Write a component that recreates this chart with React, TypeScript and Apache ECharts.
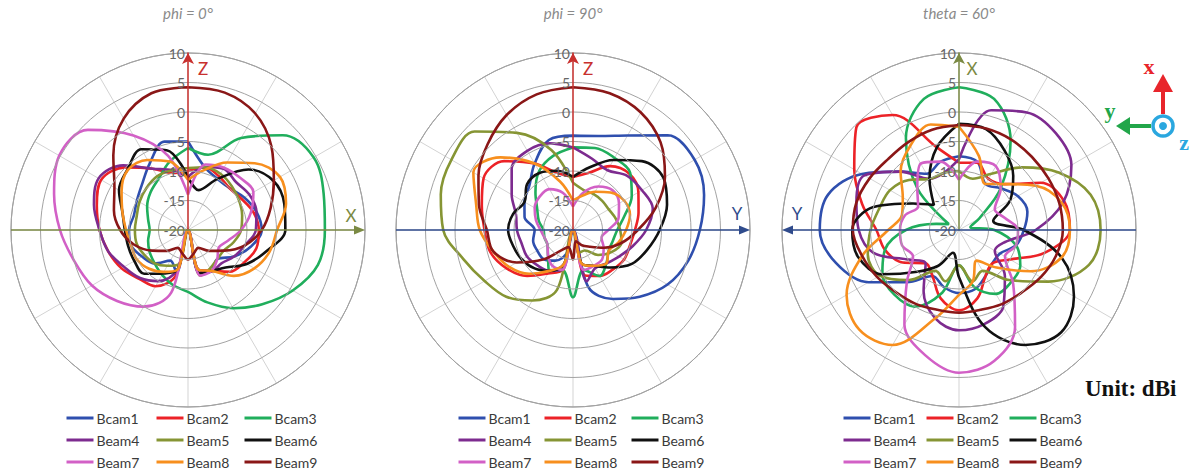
import React, { useEffect, useRef } from 'react';
import * as echarts from 'echarts';

// angle in degrees, measured clockwise from the upward axis
const angles = [0, 15, 30, 45, 60, 75, 90, 105, 120, 135, 150, 165, 180, 195, 210, 225, 240, 255, 270, 285, 300, 315, 330, 345];

const beamNames = ['Bcam1', 'Bcam2', 'Bcam3', 'Beam4', 'Beam5', 'Beam6', 'Beam7', 'Beam8', 'Beam9'];
const beamColors = ['#2f4fae', '#ec2227', '#20ae5c', '#7d2b8f', '#869534', '#111111', '#d260c6', '#f78f1e', '#8a1717'];
const panelTitles = ['phi = 0°', 'phi = 90°', 'theta = 60°'];

// phi = 0° cut (dBi)
const phi0Beam1 = [-5, -9, -10, -10, -9, -8, -7.5, -9, -11, -13, -12, -12.4, -20, -12.5, -14, -12, -11, -10, -10, -10.5, -10, -9, -7, -4.5];
const phi0Beam2 = [-10, -9, -9.5, -10, -9.5, -8.5, -8, -8, -9, -10, -12, -13, -20, -12, -9, -8.3, -7, -6, -5, -4, -3, -5, -8, -10];
const phi0Beam3 = [-6.1, -6.8, -2, 2.7, 4.6, 3.8, 3.2, 2.8, 0.5, -2.2, -4.7, -7.3, -9.5, -10.3, -11.2, -12, -12.5, -13, -13.5, -13, -12, -11, -10, -8];
const phi0Beam4 = [-11, -9, -8, -8.5, -8, -8, -8.5, -10, -11, -12, -12, -13, -20, -13, -10, -8.5, -7.5, -6, -5, -3.5, -2.5, -4.5, -8, -9.5];
const phi0Beam5 = [-9.5, -9, -9, -9.5, -10, -10.5, -11, -12, -13, -13, -12.5, -12, -20, -14, -13, -12, -11.5, -11, -11, -11, -10.5, -10, -9.5, -9.5];
const phi0Beam6 = [-11, -13, -10, -5.5, -3.3, -3.1, -3.5, -6.2, -8.5, -11, -12, -12.4, -20, -13, -11.5, -9.5, -9.5, -9.5, -9.3, -8.5, -6.5, -5.5, -4.2, -6];
const phi0Beam7 = [-14, -8.5, -7.8, -7.5, -7.2, -9, -11, -13, -14, -13, -12, -12, -20, -9, -5, -3, -1.2, 0, 1.7, 3.5, 5.2, 4, -1.5, -7];
const phi0Beam8 = [-11.5, -9.5, -6.8, -4, -2, -2.8, -4.9, -5.7, -7, -9, -12, -13, -20, -13, -11.8, -10.7, -10, -10, -9.5, -8.5, -7, -5.6, -6.3, -8];
const phi0Beam9 = [4.2, 4.1, 2.8, 0, -3.2, -5.5, -7.5, -10, -13, -15, -16.5, -16, -15, -16, -16.5, -15, -13, -10.5, -8.5, -7, -5.6, -2.1, 1.8, 4];

// phi = 90° cut (dBi)
const phi90Beam1 = [-4, -3.5, -1.5, 2.7, 3.8, 3, 1.5, 0.2, -1.5, -4, -6.5, -10, -20, -16, -14, -13, -13, -13, -13.5, -11.5, -10.5, -9.5, -7, -4.2];
const phi90Beam2 = [-11, -10, -7.5, -6.5, -7.2, -8.5, -9.5, -10, -10, -10.5, -11, -12, -20, -13, -11.5, -9, -7, -5.5, -5, -4, -2.5, -3.5, -7, -10];
const phi90Beam3 = [-6, -5.6, -5.9, -6.3, -8.5, -11, -12.5, -13, -13, -12, -11, -13, -8.6, -13, -12, -14, -15, -15, -15, -14, -13, -11, -8.5, -7];
const phi90Beam4 = [-6, -7.5, -8.3, -7, -6.5, -6, -7.6, -9.5, -11, -12, -12.5, -11, -20, -13, -12, -11.5, -11, -11, -10.5, -10, -8, -5.3, -4.5, -4.8];
const phi90Beam5 = [-12, -13, -13, -13, -13, -12.5, -12, -11.5, -12.5, -14, -16, -16, -20, -9.5, -6.2, -4, -2.7, -0.8, 2, 3.2, 3.8, 3.6, -1, -6];
const phi90Beam6 = [-11, -9, -6.3, -3.5, -2.3, -3.5, -5.3, -7, -8.5, -11, -13, -14, -20, -14, -12, -10.8, -10, -9.5, -9, -9.5, -10.5, -9, -8.8, -9.6];
const phi90Beam7 = [-16, -13.5, -11.5, -10.5, -11, -12, -14, -15, -14, -13, -13, -13, -20, -13, -13, -14, -15, -15, -14.5, -13.5, -12.5, -12, -12, -13.5];
const phi90Beam8 = [-15, -14, -12.5, -11, -10, -10, -11, -12, -13, -12, -13, -14, -20, -14, -12, -9.5, -7.5, -6, -4.2, -3, -0.5, -2.6, -7, -11.5];
const phi90Beam9 = [4.2, 4, 3, 1, -2, -5.5, -9, -11.5, -14, -16, -17, -18, -15, -17, -16, -13, -9, -6, -5.4, -3.5, -1.5, 0.5, 2.5, 3.8];

// theta = 60° cut (dBi)
const theta60Beam1 = [-7.5, -8, -11, -10, -8.5, -8, -9, -10, -12, -12, -11, -9.6, -9.3, -10, -11, -7.5, -2.3, 1.6, 3.6, 3, -1, -6, -9, -8];
const theta60Beam2 = [-8.6, -8.2, -10, -9, -4, -1.5, -1.2, -5, -10, -12, -11, -8, -6.4, -8, -11, -12, -9, -7, -6, -3, 0.5, 4.6, 2.5, -5.5];
const theta60Beam3 = [4.2, 3, -2.5, -10, -16, -18, -14, -10, -8, -7.5, -7.5, -10, -14, -9, -5, -4.5, -5, -7, -11, -16, -18, -10, -2, 3];
const theta60Beam4 = [-8, 1, 3, 3.2, 2, -1.7, -7, -12, -13, -9, -5, -3.5, -3, -4.5, -8, -12, -10, -5, -3, -2, -1.5, -6, -10, -10];
const theta60Beam5 = [-10, -11, -9, -5, -0.5, 3.1, 4, 2.8, -2.5, -8, -12, -11, -14, -11, -12, -8, -4.5, -4, -5, -6, -6.5, -8, -10, -10];
const theta60Beam6 = [-2, -2.3, -4.5, -7, -10, -14, -9, -2, 2.5, 4.5, 2.5, -3, -12, -16, -13, -10, -5, -2.3, -1.9, -5, -11, -14, -10, -5.5];
const theta60Beam7 = [-11.5, -8, -7.5, -10, -13, -12, -10, -10, -11, -7, -1, 3, 4.2, 2, -1.5, -7.5, -11, -10, -10, -10.5, -12, -10, -7, -8];
const theta60Beam8 = [-2.5, -7, -11, -9, -5, -2, -1.2, -2, -6, -11, -14, -11, -9, -4.5, 2.5, 3.9, 2, -3, -8, -10, -9, -6, -3.5, -1.5];
const theta60Beam9 = [-2.2, -2.2, -2.3, -2.5, -2.5, -2.4, -2.4, -3, -4, -5, -5.5, -6, -6, -6, -5.5, -5, -4, -3, -2, -2, -2.5, -3, -2.8, -2.4];

const panelData = [
  [phi0Beam1, phi0Beam2, phi0Beam3, phi0Beam4, phi0Beam5, phi0Beam6, phi0Beam7, phi0Beam8, phi0Beam9],
  [phi90Beam1, phi90Beam2, phi90Beam3, phi90Beam4, phi90Beam5, phi90Beam6, phi90Beam7, phi90Beam8, phi90Beam9],
  [theta60Beam1, theta60Beam2, theta60Beam3, theta60Beam4, theta60Beam5, theta60Beam6, theta60Beam7, theta60Beam8, theta60Beam9],
];

const legendColumns = [
  ['Bcam1', 'Beam4', 'Beam7'],
  ['Bcam2', 'Beam5', 'Beam8'],
  ['Bcam3', 'Beam6', 'Beam9'],
];

// layout
const CX = [188, 573, 959];
const CY = 230;
const R = 177;
const legendLefts = [
  [65, 155, 243],
  [457, 543, 630],
  [842, 925, 1008],
];
const RED_AX = '#c8302e';
const OLIVE_AX = '#7b8a44';
const NAVY_AX = '#2f4b8c';
const verticalAxisColors = [RED_AX, RED_AX, OLIVE_AX];
const FONT = 'Lato, "Open Sans", sans-serif';

function hArrow(xFrom: number, xTip: number, color: string) {
  const dir = xTip > xFrom ? 1 : -1;
  return [
    {
      type: 'line', z: 50,
      shape: { x1: xFrom, y1: CY, x2: xTip - dir * 8, y2: CY },
      style: { stroke: color, lineWidth: 1.5 },
    },
    {
      type: 'polygon', z: 50,
      shape: { points: [[xTip, CY], [xTip - dir * 11, CY - 4.5], [xTip - dir * 11, CY + 4.5]] },
      style: { fill: color },
    },
  ];
}

function label(text: string, x: number, y: number, color: string, font: string) {
  return {
    type: 'text', z: 50, x, y,
    style: { text, fill: color, font, textAlign: 'center', textVerticalAlign: 'middle' },
  };
}

export default function App() {
  const ref = useRef<HTMLDivElement>(null);

  useEffect(() => {
    document.body.style.margin = '0';
    if (!ref.current) return;
    const chart = echarts.init(ref.current, undefined, { renderer: 'svg' });

    const polar = CX.map((cx) => ({ center: [cx, CY], radius: R }));
    const angleAxis = CX.map((_, i) => ({
      polarIndex: i,
      type: 'value',
      min: 0,
      max: 360,
      interval: 30,
      startAngle: 90,
      clockwise: true,
      axisLine: { show: true, lineStyle: { color: '#9a9a9a', width: 1 } },
      axisTick: { show: false },
      axisLabel: { show: false },
      splitLine: { show: true, lineStyle: { color: '#d3d3d3', width: 1 } },
    }));
    const radiusAxis = CX.map((_, i) => ({
      polarIndex: i,
      type: 'value',
      min: -20,
      max: 10,
      interval: 5,
      z: 20,
      axisLine: {
        show: true,
        symbol: ['none', 'arrow'],
        symbolSize: [9, 11],
        lineStyle: { color: verticalAxisColors[i], width: 1.5 },
      },
      axisTick: { show: false },
      axisLabel: { show: true, color: '#666666', fontSize: 14, fontFamily: FONT, margin: 3 },
      splitLine: { show: true, lineStyle: { color: '#a3a3a3', width: 1 } },
    }));

    const series: any[] = [];
    panelData.forEach((beams, p) => {
      beams.forEach((vals, b) => {
        const data = angles.map((a, k) => [vals[k], a]);
        data.push([vals[0], 360]);
        series.push({
          type: 'line',
          name: beamNames[b],
          coordinateSystem: 'polar',
          polarIndex: p,
          data,
          symbol: 'none',
          smooth: 0.35,
          lineStyle: { width: 2.6, color: beamColors[b] },
          itemStyle: { color: beamColors[b] },
          z: 5,
        });
      });
    });

    const legend: any[] = [];
    legendLefts.forEach((cols) => {
      cols.forEach((left, c) => {
        legend.push({
          orient: 'vertical',
          left,
          top: 411,
          padding: 0,
          itemWidth: 27,
          itemHeight: 14,
          itemGap: 8,
          selectedMode: false,
          data: legendColumns[c],
          itemStyle: { opacity: 0 },
          lineStyle: { width: 3 },
          textStyle: { color: '#3a3a3a', fontSize: 14, fontFamily: FONT, padding: [0, 0, 0, -2] },
        });
      });
    });

    const graphic: any[] = [
      ...panelTitles.map((t, i) => label(t, CX[i], 13, '#8a8a8a', `italic 15px ${FONT}`)),
      ...hArrow(CX[0] - R, CX[0] + R, OLIVE_AX),
      ...hArrow(CX[1] - R, CX[1] + R, NAVY_AX),
      ...hArrow(CX[2] + R, CX[2] - R, NAVY_AX),
      label('Z', CX[0] + 15, 68, RED_AX, `17px ${FONT}`),
      label('X', CX[0] + 163, 215, OLIVE_AX, `17px ${FONT}`),
      label('Z', CX[1] + 15, 68, RED_AX, `17px ${FONT}`),
      label('Y', CX[1] + 164, 213, NAVY_AX, `17px ${FONT}`),
      label('X', CX[2] + 13, 68, OLIVE_AX, `17px ${FONT}`),
      label('Y', CX[2] - 162, 213, NAVY_AX, `17px ${FONT}`),
      // coordinate icon
      { type: 'line', z: 50, shape: { x1: 1163, y1: 114, x2: 1163, y2: 90 }, style: { stroke: '#e8252b', lineWidth: 4 } },
      { type: 'polygon', z: 50, shape: { points: [[1163, 74], [1153, 92], [1173, 92]] }, style: { fill: '#e8252b' } },
      label('x', 1149, 66, '#e8252b', 'bold 22px "Liberation Serif", serif'),
      { type: 'line', z: 50, shape: { x1: 1151, y1: 126, x2: 1128, y2: 126 }, style: { stroke: '#22a64a', lineWidth: 4 } },
      { type: 'polygon', z: 50, shape: { points: [[1116, 126], [1130, 117], [1130, 135]] }, style: { fill: '#22a64a' } },
      label('y', 1110, 110, '#22a64a', 'bold 22px "Liberation Serif", serif'),
      { type: 'circle', z: 50, shape: { cx: 1163, cy: 126, r: 10 }, style: { fill: '#ffffff', stroke: '#2aa7df', lineWidth: 3.5 } },
      { type: 'circle', z: 51, shape: { cx: 1163, cy: 126, r: 4 }, style: { fill: '#2aa7df' } },
      label('z', 1184, 142, '#2aa7df', 'bold 22px "Liberation Serif", serif'),
      {
        type: 'text', z: 50, x: 1085, y: 388,
        style: { text: 'Unit: dBi', fill: '#111111', font: 'bold 23px "Liberation Serif", serif', textAlign: 'left', textVerticalAlign: 'middle' },
      },
    ];

    chart.setOption({
      animation: false,
      backgroundColor: '#ffffff',
      polar,
      angleAxis,
      radiusAxis,
      legend,
      series,
      graphic,
    });

    return () => chart.dispose();
  }, []);

  return <div ref={ref} style={{ width: 1194, height: 473 }} />;
}
